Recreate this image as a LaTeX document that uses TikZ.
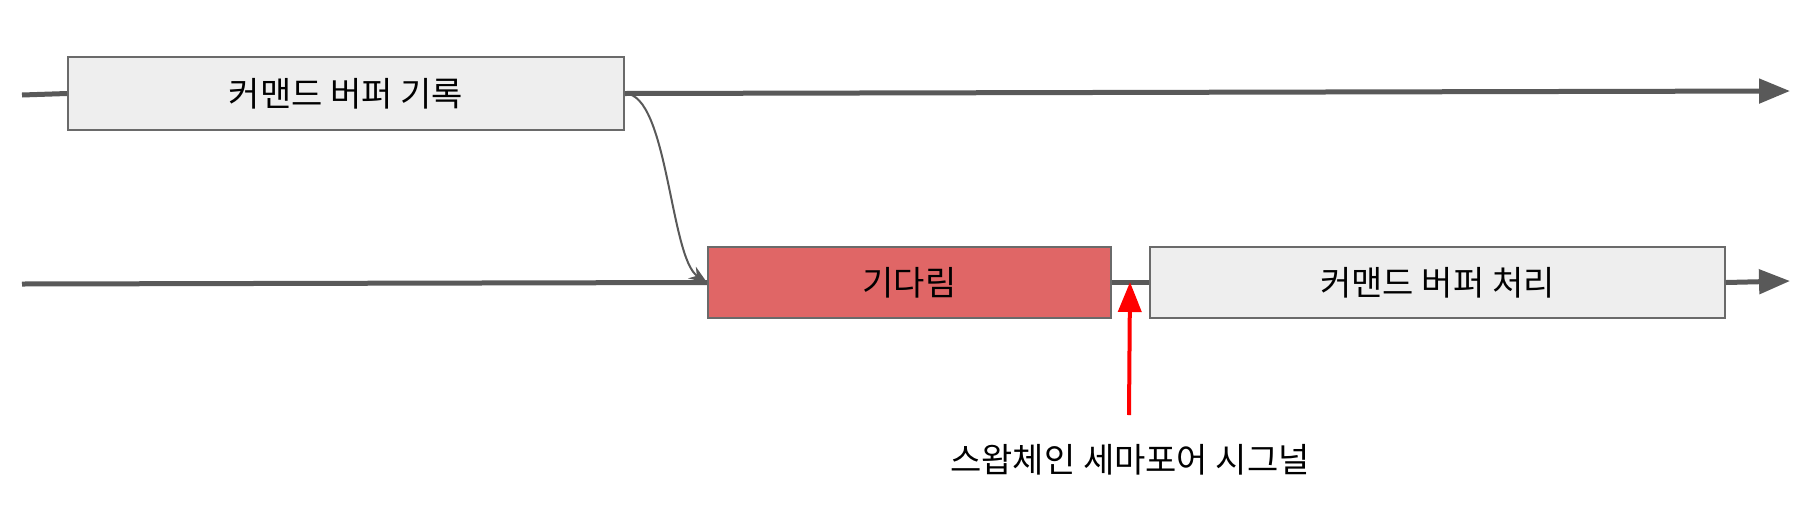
\documentclass[tikz,border=0pt]{standalone}
\usepackage{fontspec}
\setmainfont{Noto Sans CJK KR}
\usetikzlibrary{arrows.meta}
\definecolor{lineGray}{HTML}{595959}
\definecolor{boxGray}{HTML}{EEEEEE}
\definecolor{waitRed}{HTML}{E06666}
\begin{document}
\begin{tikzpicture}[x=0.5pt,y=-0.5pt,
                    cmd box/.style={rectangle, draw=lineGray!90, line width=1pt, fill=boxGray,
                                    inner sep=0pt, font=\fontsize{17pt}{20pt}\selectfont},
                    wait box/.style={cmd box, fill=waitRed},
                    time line/.style={draw=lineGray, line width=2.5pt},
                    time arrow/.style={time line, -{Triangle[length=15.5pt,width=12pt]}}]
  \useasboundingbox (0,0) rectangle (1818,520);

  %Boxes%
  \node[cmd box, minimum width=278pt, minimum height=36.5pt] (rec) at (346,93.5) {커맨드 버퍼 기록};
  \node[wait box, minimum width=201.5pt, minimum height=35.5pt] (wait) at (909.5,282.5) {기다림};
  \node[cmd box, minimum width=287.5pt, minimum height=35.5pt] (proc) at (1437.5,282.5) {커맨드 버퍼 처리};
  \node[font=\fontsize{17pt}{20pt}\selectfont] (label) at (1130,460) {스왑체인 세마포어 시그널};

  %Ends%
  \coordinate (s1) at (22,95);
  \coordinate (e1) at (1790,91);
  \coordinate (s2) at (22,284);
  \coordinate (e2) at (1790,281);
  \coordinate (sig) at (1129,415);
  \coordinate (sigtip) at (1130,282);

  %Time lines%
  \draw[time line] (s1) -- (rec.west);
  \draw[time arrow] (rec.east) -- (e1);
  \draw[time line] (s2) -- (wait.west);
  \draw[time line] (wait.east) -- (proc.west);
  \draw[time arrow] (proc.east) -- (e2);

  %Dependency%
  \draw[lineGray, line width=1pt, -{Stealth[length=9pt,width=7pt]}]
    (rec.east) .. controls (668,94) and (670,258) .. (wait.west);
  \draw[red, line width=2pt, -{Triangle[length=15pt,width=11.5pt]}] (sig) -- (sigtip);
\end{tikzpicture}
\end{document}
